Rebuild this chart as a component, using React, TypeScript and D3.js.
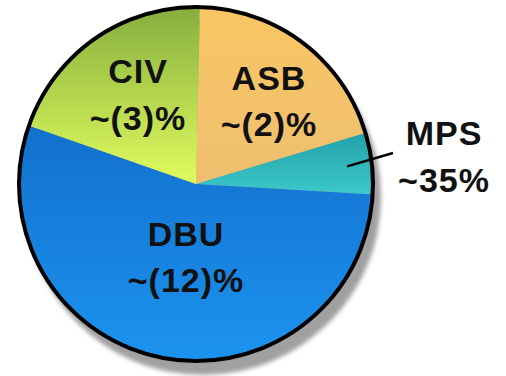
import React from "react";
import * as d3 from "d3";

// Segment shares of the whole (pie slice sizes)
const segments = ["ASB", "MPS", "DBU", "CIV"];
const shares = [20.0, 5.6, 54.4, 20.0];
// Growth labels shown for each segment
const growthLabels = ["~(2)%", "~35%", "~(12)%", "~(3)%"];

const W = 506;
const H = 376;
const cx = 196;
const cy = 184;
const R = 177;

// Vertical gradients, coordinates relative to the pie centre
type Grad = { id: string; top: string; bottom: string; y1: number; y2: number };
const grads: Grad[] = [
  { id: "g-asb", top: "#f9c663", bottom: "#efbf70", y1: -R, y2: 0 },
  { id: "g-mps", top: "#24a2ab", bottom: "#3cc8c8", y1: -50, y2: 10 },
  { id: "g-dbu", top: "#1270cc", bottom: "#1c93f0", y1: -60, y2: R },
  { id: "g-civ", top: "#86ae3e", bottom: "#dcf85c", y1: -R, y2: -10 },
];

// Label anchor points (center x, first-line baseline, second-line baseline)
const labelPos = [
  { x: 269, y1: 90, y2: 136 },
  { x: 444, y1: 145, y2: 192 },
  { x: 186, y1: 246, y2: 292 },
  { x: 138, y1: 83, y2: 130 },
];

export default function App() {
  const pie = d3
    .pie<number>()
    .sort(null)
    .value((d) => d)
    .startAngle(0.022)
    .endAngle(0.022 + Math.PI * 2);
  const arcs = pie(shares);
  const arc = d3.arc<d3.PieArcDatum<number>>().innerRadius(0).outerRadius(R);

  // Leader line from inside the MPS slice out to its label
  const mps = arcs[1];
  const mid = (mps.startAngle + mps.endAngle) / 2;
  const inner = d3
    .arc<any>()
    .innerRadius(R * 0.86)
    .outerRadius(R * 0.86)
    .centroid({ startAngle: mid, endAngle: mid });

  return (
    <svg
      width={W}
      height={H}
      style={{ position: "absolute", left: 0, top: 0, background: "#fff" }}
      fontFamily="'Liberation Sans', Arial, sans-serif"
    >
      <defs>
        {grads.map((g) => (
          <linearGradient key={g.id} id={g.id} gradientUnits="userSpaceOnUse" x1={0} x2={0} y1={g.y1} y2={g.y2}>
            <stop offset="0" stopColor={g.top} />
            <stop offset="1" stopColor={g.bottom} />
          </linearGradient>
        ))}
        <filter id="soft" x="-20%" y="-20%" width="140%" height="140%">
          <feGaussianBlur stdDeviation="2" />
        </filter>
      </defs>
      <circle cx={cx + 7} cy={cy + 13} r={R + 1} fill="#a0a0a0" filter="url(#soft)" />
      <g transform={`translate(${cx},${cy})`}>
        {arcs.map((a, i) => (
          <path key={segments[i]} d={arc(a) || ""} fill={`url(#${grads[i].id})`} />
        ))}
        <circle r={R} fill="none" stroke="#000" strokeWidth={4} />
        <line x1={inner[0]} y1={inner[1]} x2={393 - cx} y2={153 - cy} stroke="#000" strokeWidth={2.5} />
      </g>
      {segments.map((s, i) => (
        <g key={s} fill="#111" fontWeight="bold" fontSize={34} letterSpacing={1} textAnchor="middle">
          <text x={labelPos[i].x} y={labelPos[i].y1}>{s}</text>
          <text x={labelPos[i].x} y={labelPos[i].y2}>{growthLabels[i]}</text>
        </g>
      ))}
    </svg>
  );
}
